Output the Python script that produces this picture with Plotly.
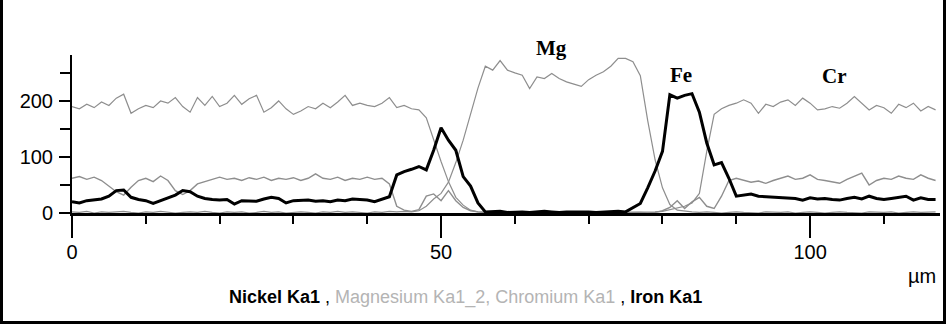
import plotly.graph_objects as go

# ---------------- data ----------------
distance_um = list(range(0, 118))

chromium = [190, 186, 194, 188, 198, 192, 205, 212, 178, 186,
            192, 188, 200, 196, 206, 190, 180, 206, 192, 208,
            190, 196, 210, 194, 204, 210, 180, 188, 200, 186,
            176, 182, 190, 186, 196, 188, 198, 210, 192, 196,
            192, 190, 196, 206, 188, 192, 186, 184, 170, 130,
            92, 56, 28, 14, 5, 2, 1, 2, 1, 0,
            1, 2, 1, 0, 1, 2, 1, 1, 0, 1,
            2, 1, 0, 1, 2, 1, 1, 2, 1, 2,
            3, 6, 8, 12, 18, 35, 110, 176, 186, 192,
            196, 202, 196, 178, 194, 190, 198, 202, 192, 205,
            196, 184, 186, 190, 187, 196, 208, 196, 184, 192,
            188, 178, 194, 188, 196, 182, 190, 184]

magnesium = [2, 1, 3, 0, 2, 1, 2, 3, 1, 0,
             2, 1, 3, 2, 0, 1, 2, 1, 3, 1,
             0, 2, 1, 2, 0, 1, 3, 1, 2, 0,
             1, 2, 1, 0, 2, 1, 3, 1, 2, 1,
             0, 2, 1, 3, 2, 3, 2, 4, 12, 25,
             35, 55, 90, 130, 178, 223, 262, 255, 272, 255,
             250, 246, 222, 243, 240, 249, 240, 234, 230, 226,
             238, 246, 252, 262, 276, 276, 270, 245, 165, 95,
             45, 15, 5, 3, 2, 1, 2, 1, 0, 1,
             2, 1, 1, 0, 2, 1, 1, 2, 0, 1,
             2, 1, 0, 1, 2, 1, 1, 0, 2, 1,
             1, 2, 0, 1, 2, 1, 1, 2]

nickel = [62, 65, 60, 64, 58, 48, 38, 32, 46, 58,
          62, 56, 66, 58, 40, 33, 40, 52, 56, 60,
          64, 60, 62, 58, 63, 60, 64, 58, 62, 60,
          63, 58, 62, 70, 62, 60, 64, 58, 62, 60,
          64, 60, 62, 52, 12, 5, 3, 6, 30, 34,
          22, 40, 22, 10, 4, 2, 1, 0, 1, 2,
          1, 0, 1, 1, 2, 0, 1, 2, 1, 0,
          1, 2, 1, 0, 1, 1, 2, 1, 0, 1,
          4, 10, 22, 8, 20, 28, 12, 8, 30, 58,
          62, 58, 55, 57, 53, 58, 62, 66, 60, 62,
          68, 60, 58, 55, 53, 60, 65, 71, 50, 58,
          62, 60, 66, 62, 60, 68, 62, 58]

iron = [20, 18, 22, 24, 25, 30, 40, 41, 28, 24,
        22, 17, 22, 26, 32, 40, 38, 30, 26, 24,
        23, 24, 16, 22, 22, 21, 25, 28, 26, 18,
        22, 22, 23, 21, 22, 20, 23, 22, 25, 24,
        23, 20, 24, 29, 68, 74, 78, 83, 77, 112,
        152, 130, 112, 65, 48, 18, 2, 2, 3, 1,
        2, 2, 1, 2, 3, 2, 1, 2, 2, 3,
        2, 1, 2, 2, 3, 2, 9, 17, 45, 75,
        110, 211, 205, 210, 213, 180, 125, 86, 90, 62,
        30, 32, 34, 30, 29, 29, 27, 26, 26, 23,
        27, 25, 26, 24, 23, 26, 28, 25, 30, 26,
        24, 26, 28, 30, 23, 27, 24, 24]

series_names = ["Nickel Ka1", "Magnesium Ka1_2", "Chromium Ka1", "Iron Ka1"]
peak_labels = ["Mg", "Fe", "Cr"]
# x in µm, y as fraction of figure height
peak_label_pos = [(64.9, 0.852), (82.5, 0.769), (103.3, 0.765)]

x_major = [0, 50, 100]
y_major = [0, 100, 200]

# ---------------- layout geometry ----------------
W, H = 946, 324
px_left, px_right = 72, 940
px_top, px_bottom = 55, 213
x_max = 117.6
y_max = 282

fig = go.Figure()

gray = "#8e8e8e"
fig.add_trace(go.Scatter(x=distance_um, y=nickel, mode="lines", name=series_names[0],
                         line=dict(color=gray, width=1.4)))
fig.add_trace(go.Scatter(x=distance_um, y=magnesium, mode="lines", name=series_names[1],
                         line=dict(color=gray, width=1.2)))
fig.add_trace(go.Scatter(x=distance_um, y=chromium, mode="lines", name=series_names[2],
                         line=dict(color=gray, width=1.2)))
fig.add_trace(go.Scatter(x=distance_um, y=iron, mode="lines", name=series_names[3],
                         line=dict(color="black", width=3)))

tick_font = dict(family="Liberation Sans, Arial", size=20, color="black")

fig.update_layout(
    width=W, height=H,
    margin=dict(l=0, r=0, t=0, b=0, pad=0),
    paper_bgcolor="white", plot_bgcolor="white",
    showlegend=False,
    xaxis=dict(
        domain=[px_left / W, px_right / W],
        range=[0, x_max], autorange=False,
        showgrid=False, zeroline=False,
        showline=True, linecolor="black", linewidth=3,
        tickmode="array", tickvals=x_major,
        ticks="outside", ticklen=22, tickwidth=2, tickcolor="black",
        ticklabelstandoff=-3,
        minor=dict(dtick=10, tick0=0, ticks="outside", ticklen=8,
                   tickwidth=2, tickcolor="black"),
        tickfont=tick_font, automargin=False,
    ),
    yaxis=dict(
        domain=[(H - px_bottom) / H, (H - px_top) / H],
        range=[0, y_max], autorange=False,
        showgrid=False, zeroline=False,
        showline=True, linecolor="black", linewidth=2,
        tickmode="array", tickvals=y_major,
        ticks="outside", ticklen=11, tickwidth=2, tickcolor="black",
        ticklabelstandoff=2,
        minor=dict(dtick=50, tick0=0, ticks="outside", ticklen=10,
                   tickwidth=2, tickcolor="black"),
        tickfont=tick_font, automargin=False,
    ),
)

# peak labels
for lab, (lx, ly) in zip(peak_labels, peak_label_pos):
    fig.add_annotation(x=lx, y=ly, xref="x", yref="paper", text=f"<b>{lab}</b>",
                       showarrow=False, xanchor="center", yanchor="middle",
                       font=dict(family="Liberation Serif, Times New Roman, serif",
                                 size=21, color="black"))

# unit label
fig.add_annotation(x=922 / W, y=(H - 276) / H, xref="paper", yref="paper",
                   text="µm", showarrow=False, xanchor="center", yanchor="middle",
                   font=tick_font)

# legend line as text
legend_text = ("<b>" + series_names[0] + "</b> , "
               "<span style='color:#b4b4b4'>" + series_names[1] + ", " + series_names[2] + "</span> , "
               "<b>" + series_names[3] + "</b>")
fig.add_annotation(x=465 / W, y=(H - 297) / H, xref="paper", yref="paper",
                   text=legend_text, showarrow=False, xanchor="center", yanchor="middle",
                   font=dict(family="Liberation Sans, Arial", size=18, color="black"))

# frame around the picture
frame = dict(color="black", width=6)
fig.add_shape(type="line", xref="paper", yref="paper", x0=0, x1=0, y0=0, y1=1, line=frame)
fig.add_shape(type="line", xref="paper", yref="paper", x0=1, x1=1, y0=0, y1=1, line=frame)
fig.add_shape(type="line", xref="paper", yref="paper", x0=0, x1=1, y0=0, y1=0, line=frame)

fig.write_html("out.html",
               config={"displayModeBar": False},
               post_script="document.body.style.margin='0px';document.body.style.overflow='hidden';")
